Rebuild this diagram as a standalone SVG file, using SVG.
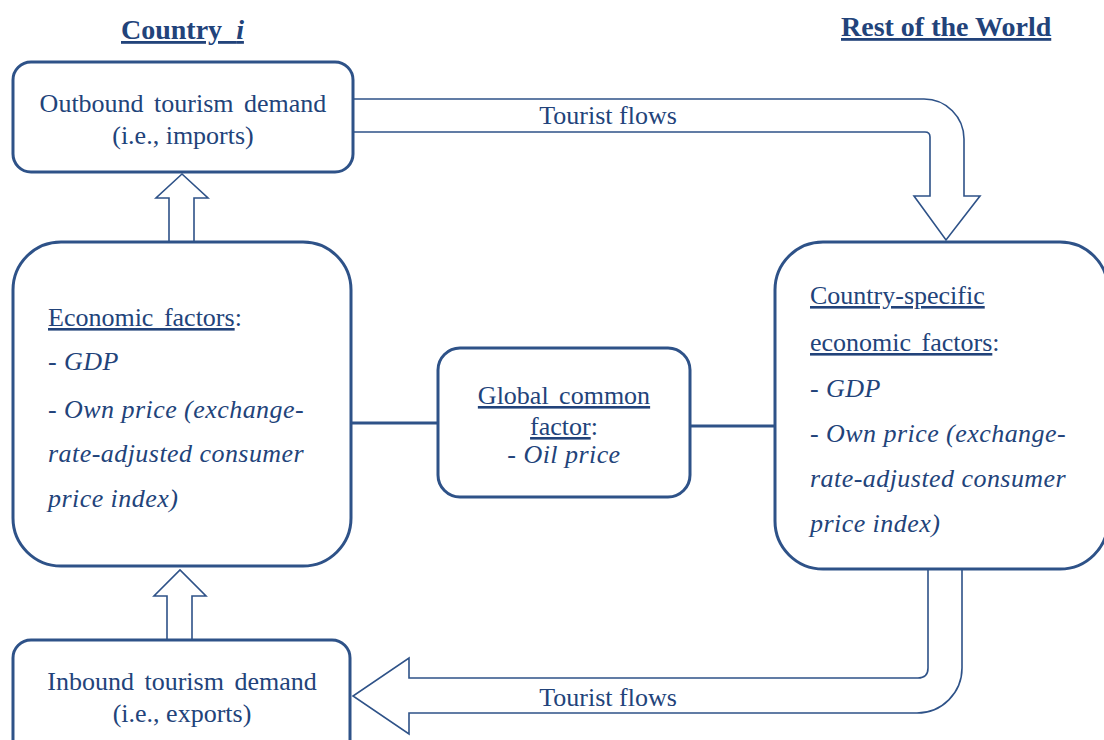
<svg xmlns="http://www.w3.org/2000/svg" width="1104" height="740" viewBox="0 0 1104 740">
<style>
.box{fill:#fff;stroke:#2E5288;stroke-width:3}
.blk{fill:#fff;stroke:#2E5288;stroke-width:1.6;stroke-linejoin:miter}
.ln{fill:none;stroke:#2E5288;stroke-width:3}
text{font-family:"Liberation Serif","Times New Roman",serif;font-size:26px;fill:#22437A}
.h{font-weight:bold;font-size:28px}
.c{text-anchor:middle}
.it{font-style:italic;letter-spacing:0.45px}
.u{text-decoration:underline}
.ws{word-spacing:4px}
</style>
<rect width="1104" height="740" fill="#fff"/>
<g id="headings">
<text class="h u" x="121" y="39" xml:space="preserve">Country  <tspan font-style="italic">i</tspan></text>
<text class="h u" x="841" y="36">Rest of the World</text>
</g>
<g id="connectors">
<path class="blk" d="M353,99 H924 A40,40 0 0 1 964,139 V196 H980 L946,240 L914,196 H930 V137 Q930,132 925,132 H353"/>
<path class="blk" d="M928,569 V668 Q928,678 918,678 H409 V658 L353,696 L409,734 V713 H917 A45,45 0 0 0 962,668 V569"/>
<path class="blk" d="M169,242 V198 H156 L182,174 L208,198 H194 V242"/>
<path class="blk" d="M167,640 V596 H154 L180,570 L206,596 H192 V640"/>
<path class="ln" d="M351,423 H438"/>
<path class="ln" d="M690,426 H775"/>
<text x="608" y="124" class="c">Tourist flows</text>
<text x="608" y="706" class="c">Tourist flows</text>
</g>
<g id="outbound">
<rect class="box" x="13" y="62" width="340" height="110" rx="18"/>
<text class="c ws" x="183" y="112">Outbound tourism demand</text>
<text class="c" x="183" y="144">(i.e., imports)</text>
</g>
<g id="economic-factors">
<rect class="box" x="13" y="242" width="338" height="324" rx="48"/>
<text x="48" y="326"><tspan class="u ws">Economic factors</tspan>:</text>
<text class="it" x="48" y="370">- GDP</text>
<text class="it" x="48" y="418">- Own price (exchange-</text>
<text class="it" x="48" y="462">rate-adjusted consumer</text>
<text class="it" x="48" y="507">price index)</text>
</g>
<g id="global-factor">
<rect class="box" x="438" y="348" width="252" height="149" rx="22"/>
<text class="c u ws" x="564" y="404">Global common</text>
<text class="c" x="564" y="435"><tspan class="u">factor</tspan>:</text>
<text class="c it" x="564" y="463">- Oil price</text>
</g>
<g id="country-specific">
<rect class="box" x="775" y="242" width="333" height="327" rx="48"/>
<text class="u" x="810" y="304">Country-specific</text>
<text x="810" y="351"><tspan class="u ws">economic factors</tspan>:</text>
<text class="it" x="810" y="397">- GDP</text>
<text class="it" x="810" y="442">- Own price (exchange-</text>
<text class="it" x="810" y="487">rate-adjusted consumer</text>
<text class="it" x="810" y="532">price index)</text>
</g>
<g id="inbound">
<rect class="box" x="13" y="640" width="337" height="120" rx="18"/>
<text class="c ws" x="182" y="690">Inbound tourism demand</text>
<text class="c" x="182" y="722">(i.e., exports)</text>
</g>
</svg>
